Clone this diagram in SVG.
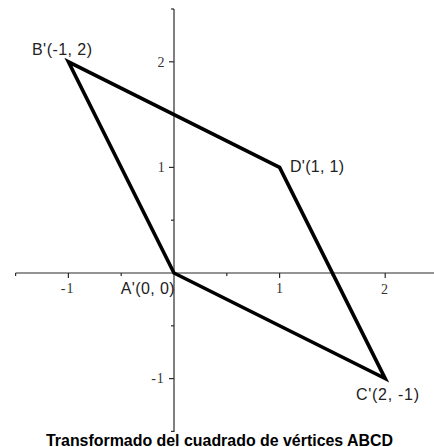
<svg xmlns="http://www.w3.org/2000/svg" width="434" height="447" viewBox="0 0 434 447">
<style>
.axis{stroke:#2a2a2a;stroke-width:1.2;fill:none}
.tick{stroke:#2a2a2a;stroke-width:1.2}
.tl{font-family:"Liberation Serif","Times New Roman",serif;font-size:14px;fill:#333}
.pl{font-family:"Liberation Sans",Arial,sans-serif;font-size:16px;fill:#222}
.title{font-family:"Liberation Sans",Arial,sans-serif;font-size:16px;font-weight:bold;fill:#000}
.poly{fill:none;stroke:#000;stroke-width:3.6;stroke-linejoin:miter}
</style>
<rect width="434" height="447" fill="#fff"/>
<g id="axes">
  <line class="axis" x1="15.6" y1="273" x2="434" y2="273"/>
  <line class="axis" x1="174" y1="9" x2="174" y2="432"/>
  <g id="xticks">
    <line class="tick" x1="15.6" y1="273" x2="15.6" y2="276"/>
    <line class="tick" x1="68.4" y1="273" x2="68.4" y2="278"/>
    <line class="tick" x1="121.2" y1="273" x2="121.2" y2="276"/>
    <line class="tick" x1="226.8" y1="273" x2="226.8" y2="276"/>
    <line class="tick" x1="279.6" y1="273" x2="279.6" y2="278"/>
    <line class="tick" x1="332.4" y1="273" x2="332.4" y2="276"/>
    <line class="tick" x1="385.2" y1="273" x2="385.2" y2="278"/>
  </g>
  <g id="yticks">
    <line class="tick" x1="174" y1="9" x2="171" y2="9"/>
    <line class="tick" x1="174" y1="61.8" x2="169" y2="61.8"/>
    <line class="tick" x1="174" y1="114.6" x2="171" y2="114.6"/>
    <line class="tick" x1="174" y1="167.4" x2="169" y2="167.4"/>
    <line class="tick" x1="174" y1="220.2" x2="171" y2="220.2"/>
    <line class="tick" x1="174" y1="325.8" x2="171" y2="325.8"/>
    <line class="tick" x1="174" y1="378.6" x2="169" y2="378.6"/>
    <line class="tick" x1="174" y1="431.4" x2="171" y2="431.4"/>
  </g>
  <g id="ticklabels">
    <text class="tl" x="74.5" y="293" text-anchor="end" letter-spacing="1">-1</text>
    <text class="tl" x="279.5" y="293" text-anchor="middle">1</text>
    <text class="tl" x="384.5" y="293.5" text-anchor="middle">2</text>
    <text class="tl" x="161" y="66.5" text-anchor="middle">2</text>
    <text class="tl" x="161.3" y="172" text-anchor="middle">1</text>
    <text class="tl" x="164.8" y="383" text-anchor="end" letter-spacing="1">-1</text>
  </g>
</g>
<g id="connectors">
  <polygon class="poly" points="174,273 68.4,61.8 279.6,167.4 385.2,378.6"/>
</g>
<g id="A">
  <text class="pl" x="120.7" y="294" textLength="54" lengthAdjust="spacing">A'(0, 0)</text>
</g>
<g id="B">
  <text class="pl" x="32" y="55" textLength="60" lengthAdjust="spacing">B'(-1, 2)</text>
</g>
<g id="C">
  <text class="pl" x="356" y="400" textLength="63" lengthAdjust="spacing">C'(2, -1)</text>
</g>
<g id="D">
  <text class="pl" x="290" y="172" textLength="54" lengthAdjust="spacing">D'(1, 1)</text>
</g>
<g id="title">
  <text class="title" x="46" y="445.5" textLength="347" lengthAdjust="spacingAndGlyphs">Transformado del cuadrado de vértices ABCD</text>
</g>
</svg>
